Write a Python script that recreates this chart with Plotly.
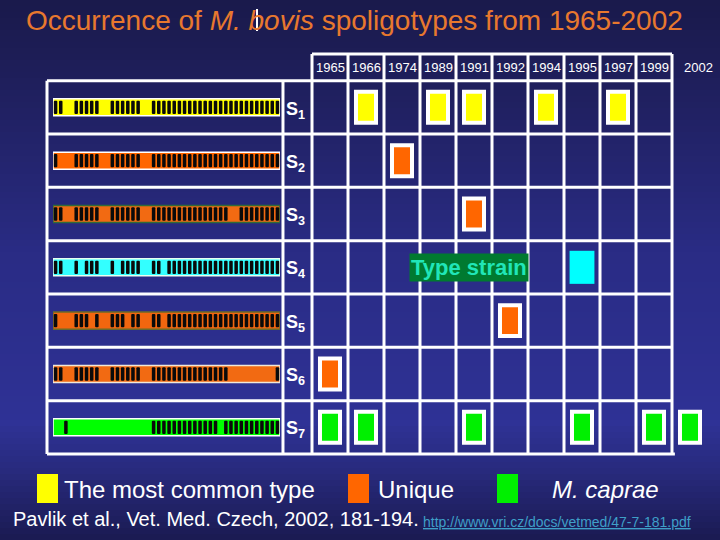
import plotly.graph_objects as go

years = ["1965", "1966", "1974", "1989", "1991", "1992", "1994", "1995", "1997", "1999", "2002"]
strains = ["S1", "S2", "S3", "S4", "S5", "S6", "S7"]

# spacer patterns (1 = black spot)
spoligo = [
    "11001111100111111001111111111111111111111111",
    "10001111100111111001111111111111111111111111",
    "11001111100111111001111111111111110011111111",
    "11001011100101111001101111111111111111111111",
    "10001110100111011001101111111111111111111111",
    "11001111100111111001111111111111110000000001",
    "00100000000000000001111111111111011111111111",
]
strip_colors = ["#ffff00", "#ff6600", "#f26a12", "#33ffff", "#f2660f", "#f26a12", "#00ff00"]
strip_edges = ["#ffffff", "#ffffff", "#2f6b3a", "#e8fff0", "#6b6b2a", "#f0e8d8", "#ffffff"]

common_strain = ["S1", "S1", "S1", "S1", "S1"]
common_year = ["1966", "1989", "1991", "1994", "1997"]
unique_strain = ["S2", "S3", "S5", "S6"]
unique_year = ["1974", "1991", "1992", "1965"]
caprae_strain = ["S7", "S7", "S7", "S7", "S7", "S7"]
caprae_year = ["1965", "1966", "1991", "1995", "1999", "2002"]
type_strain = ["S4"]
type_year = ["1995"]

W, H = 720, 540
FONT = "Liberation Sans, Arial, sans-serif"
col = {y: i for i, y in enumerate(years)}
row = {s: i + 1 for i, s in enumerate(strains)}

fig = go.Figure()


def boxes(strain_list, year_list, color, name, w=0.556, h=0.58, edge=4):
    fig.add_trace(go.Bar(
        x=[col[y] for y in year_list],
        y=[h] * len(year_list),
        base=[row[s] - h / 2 for s in strain_list],
        width=[w] * len(year_list),
        marker=dict(color=color, line=dict(color="white", width=edge)),
        name=name, showlegend=False, hoverinfo="skip"))


boxes(common_strain, common_year, "#ffff00", "The most common type")
boxes(unique_strain, unique_year, "#ff6600", "Unique")
boxes(caprae_strain, caprae_year, "#00f000", "M. caprae")
boxes(type_strain, type_year, "#00ffff", "Type strain", w=0.69, h=0.62, edge=0)

# spoligotype strips on a second x axis (spacer index)
for i, pat in enumerate(spoligo):
    r = i + 1
    fig.add_trace(go.Bar(
        x=[(len(pat) - 1) / 2], y=[0.32], base=[r - 0.16], width=[len(pat)],
        xaxis="x2", marker=dict(color=strip_colors[i], line=dict(color=strip_edges[i], width=1.5)),
        showlegend=False, hoverinfo="skip"))
    xs = [k for k, c in enumerate(pat) if c == "1"]
    fig.add_trace(go.Bar(
        x=xs, y=[0.25] * len(xs), base=[r - 0.125] * len(xs), width=[0.68] * len(xs),
        xaxis="x2", marker=dict(color="#0a0a0a", line=dict(width=0), cornerradius="45%"),
        showlegend=False, hoverinfo="skip"))

# background gradient
stops = [(0, (26, 26, 76)), (60, (30, 30, 88)), (250, (42, 44, 133)),
         (420, (47, 50, 150)), (470, (40, 42, 124)), (540, (26, 26, 80))]
shapes = []
for yy in range(0, H, 6):
    for (y0, c0), (y1, c1) in zip(stops[:-1], stops[1:]):
        if y0 <= yy <= y1:
            t = (yy - y0) / (y1 - y0)
            c = tuple(int(a + (b - a) * t) for a, b in zip(c0, c1))
            break
    shapes.append(dict(type="rect", xref="paper", yref="paper", layer="below",
                       x0=0, x1=1, y0=1 - (yy + 6) / H, y1=1 - yy / H,
                       fillcolor="rgb(%d,%d,%d)" % c, line=dict(width=0)))

# table grid
left_edge, label_edge = -7.861, -1.306
n_cols = 10
grid = dict(color="white", width=3)
for v in [left_edge, label_edge]:
    shapes.append(dict(type="line", xref="x", yref="y", x0=v, x1=v, y0=0.5, y1=7.5, line=grid, layer="below"))
for k in range(n_cols + 1):
    v = k - 0.5
    shapes.append(dict(type="line", xref="x", yref="y", x0=v, x1=v, y0=0, y1=7.5, line=grid, layer="below"))
shapes.append(dict(type="line", xref="x", yref="y", x0=-0.5, x1=n_cols - 0.5, y0=0, y1=0, line=grid, layer="below"))
for r in range(len(strains)):
    yy = r + 0.5
    shapes.append(dict(type="line", xref="x", yref="y", x0=left_edge, x1=n_cols - 0.5, y0=yy, y1=yy, line=grid, layer="below"))
shapes.append(dict(type="line", xref="x", yref="y", x0=left_edge, x1=n_cols - 0.42, y0=7.5, y1=7.5, line=grid, layer="below"))

# title cursor artefact
shapes.append(dict(type="line", xref="paper", yref="paper", x0=257 / W, x1=257 / W,
                   y0=1 - 31 / H, y1=1 - 9 / H, line=dict(color="white", width=2)))

ann = []
ann.append(dict(text="Occurrence of <i>M. bovis</i> spoligotypes from 1965-2002",
                xref="paper", yref="paper", x=354 / W, y=1 - 21 / H, showarrow=False,
                yanchor="middle", font=dict(family=FONT, size=28, color="#e8782e")))
for y in years:
    ann.append(dict(text=y, x=col[y], y=0.26, xref="x", yref="y", showarrow=False, yanchor="middle",
                    xshift=8 if y == "2002" else 0,
                    font=dict(family=FONT, size=13, color="white")))
for s in strains:
    ann.append(dict(text="<b>S<sub>%s</sub></b>" % s[1:], x=-0.95, y=row[s] + 0.05, xref="x", yref="y",
                    showarrow=False, yanchor="middle", font=dict(family=FONT, size=18, color="white")))
ann.append(dict(text="<b>Type strain</b>", x=3.86, y=4, xref="x", yref="y", showarrow=False,
                yanchor="middle", bgcolor="#007a30", borderpad=1,
                font=dict(family=FONT, size=22, color="#20e6b8")))

# legend
legend_items = [("#ffff00", "The most common type", 37), ("#ff6600", "Unique", 348), ("#00f000", "<i>M. caprae</i>", 497)]
text_x = [62, 376, 550]
for (c, label, x0), tx in zip(legend_items, text_x):
    shapes.append(dict(type="rect", xref="paper", yref="paper", x0=x0 / W, x1=(x0 + 21) / W,
                       y0=1 - 503 / H, y1=1 - 474 / H, fillcolor=c, line=dict(width=0)))
    ann.append(dict(text=label, xref="paper", yref="paper", x=tx / W, y=1 - 489 / H, xanchor="left",
                    yanchor="middle", showarrow=False, font=dict(family=FONT, size=24, color="white")))

ann.append(dict(text="Pavlik et al., Vet. Med. Czech, 2002, 181-194.", xref="paper", yref="paper",
                x=11 / W, y=1 - 519 / H, xanchor="left", yanchor="middle", showarrow=False,
                font=dict(family=FONT, size=20, color="white")))
ann.append(dict(text="<u>http://www.vri.cz/docs/vetmed/47-7-181.pdf</u>", xref="paper", yref="paper",
                x=421 / W, y=1 - 522 / H, xanchor="left", yanchor="middle", showarrow=False,
                font=dict(family=FONT, size=14, color="#3f9fc8")))

fig.update_layout(
    width=W, height=H, margin=dict(l=0, r=0, t=0, b=0),
    paper_bgcolor="#1d1d5a", plot_bgcolor="rgba(0,0,0,0)",
    barmode="overlay", showlegend=False,
    xaxis=dict(range=[-330 / 36, 390 / 36], domain=[0, 1], visible=False, fixedrange=True),
    xaxis2=dict(range=[-0.5, 43.5], domain=[53 / W, 280 / W], anchor="y", visible=False, fixedrange=True),
    yaxis=dict(range=[(H - 54) / 53.33, -54 / 53.33], domain=[0, 1], visible=False, fixedrange=True),
    shapes=shapes, annotations=ann,
)

fig.write_html("out.html", config={"displayModeBar": False},
               post_script="document.body.style.margin='0';")
